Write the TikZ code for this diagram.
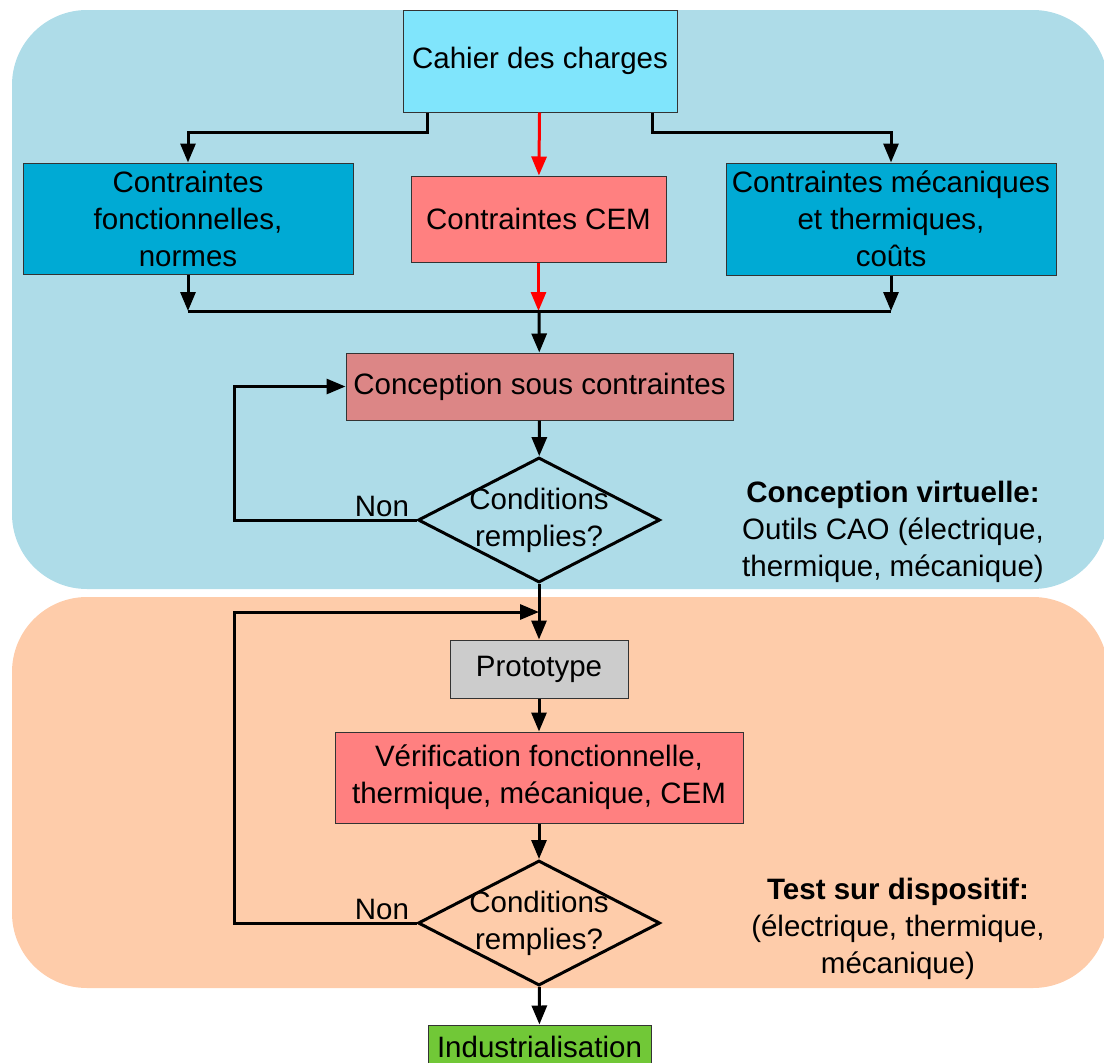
\documentclass[tikz,border=0pt]{standalone}
\usepackage{fontspec}
\setmainfont{Liberation Sans}
\usepackage{tikz}
\usetikzlibrary{shapes.geometric,arrows.meta}

\definecolor{zonebleue}{HTML}{AEDCE8}
\definecolor{zoneorange}{HTML}{FECCAA}
\definecolor{cahier}{HTML}{80E5FC}
\definecolor{contrainte}{HTML}{00AAD4}
\definecolor{cem}{HTML}{FF8080}
\definecolor{conception}{HTML}{DC8686}
\definecolor{proto}{HTML}{CCCCCC}
\definecolor{indus}{HTML}{71C837}

\tikzset{
  boite/.style={rectangle, draw=black!80, line width=1pt, inner xsep=4pt, align=center},
  condition/.style={diamond, draw, line width=3pt, aspect=1.94, minimum width=242pt, minimum height=125pt,
    inner sep=-14pt, align=center},
  fleche/.style={line width=3pt}
}

\begin{document}
\begin{tikzpicture}[x=1pt, y=-1pt, font=\fontsize{29.5}{37}\selectfont,
  >={Triangle[length=19pt,width=15pt]}]
  \useasboundingbox (0,0) rectangle (1104,1063);
  % Draw the two background zones
  \fill[zonebleue, rounded corners=75pt] (12,10) rectangle (1108,589);
  \fill[zoneorange, rounded corners=75pt] (12,597) rectangle (1108,988);

  % Conception virtuelle
  \node[boite, fill=cahier, minimum width=274pt, minimum height=102pt] (cahier) at (540,61) {Cahier des charges};
  \node[boite, fill=contrainte, minimum width=330pt, minimum height=111pt] (fonct) at (188,218.5) {Contraintes\\fonctionnelles,\\normes};
  \node[boite, fill=cem, minimum width=255pt, minimum height=86pt] (cem) at (538.5,219) {Contraintes CEM};
  \node[boite, fill=contrainte, minimum width=330pt, minimum height=112pt] (meca) at (891,219) {Contraintes mécaniques\\et thermiques,\\coûts};
  \coordinate (jonction) at (539,311);
  \node[boite, fill=conception, minimum width=387pt, minimum height=67pt] (conception) at (539.5,386.5) {Conception sous contraintes};
  \node[condition] (cond1) at (539,520) {Conditions\\remplies?};
  \node[align=center] (virtuelle) at (893,532) {\textbf{Conception virtuelle:}\\Outils CAO (électrique,\\thermique, mécanique)};

  % Test sur dispositif
  \coordinate (entree) at (539,612);
  \node[boite, fill=proto, minimum width=178pt, minimum height=58pt] (proto) at (539,669) {Prototype};
  \node[boite, fill=cem, minimum width=408pt, minimum height=91pt] (verif) at (539,777.5) {Vérification fonctionnelle,\\thermique, mécanique, CEM};
  \node[condition] (cond2) at (539,923) {Conditions\\remplies?};
  \node[align=center] (dispositif) at (898,929) {\textbf{Test sur dispositif:}\\(électrique, thermique,\\mécanique)};
  \node[boite, fill=indus, minimum width=223pt, minimum height=44pt] (indus) at (539.5,1047) {Industrialisation};

  % Connectors
  \draw[fleche, ->] ([xshift=25pt]cahier.south west) -- ++(0,20) -| (fonct.north);
  \draw[fleche, ->] ([xshift=-25pt]cahier.south east) -- ++(0,20) -| (meca.north);
  \draw[fleche, ->, red] (cahier) -- (cem);
  \draw[fleche, ->] (fonct.south) -- (fonct.south |- jonction);
  \draw[fleche, ->, red] (cem.south) -- (cem.south |- jonction);
  \draw[fleche, ->] (meca.south) -- (meca.south |- jonction);
  \draw[fleche] (fonct.south |- jonction) -- (meca.south |- jonction);
  \draw[fleche, ->] (jonction) -- (conception);
  \draw[fleche, ->] (conception) -- (cond1);
  \draw[fleche, ->] (cond1.west) -- node[above, pos=0.19, inner sep=2pt] (non1) {Non} ++(-182,0) |- (conception.west);
  \draw[fleche, ->] (cond1) -- (proto);
  \draw[fleche, ->] (proto) -- (verif);
  \draw[fleche, ->] (verif) -- (cond2);
  \draw[fleche, ->] (cond2.west) -- node[above, pos=0.19, inner sep=2pt] (non2) {Non} ++(-182,0) |- (entree);
  \draw[fleche, ->] (cond2) -- (indus);
\end{tikzpicture}
\end{document}
